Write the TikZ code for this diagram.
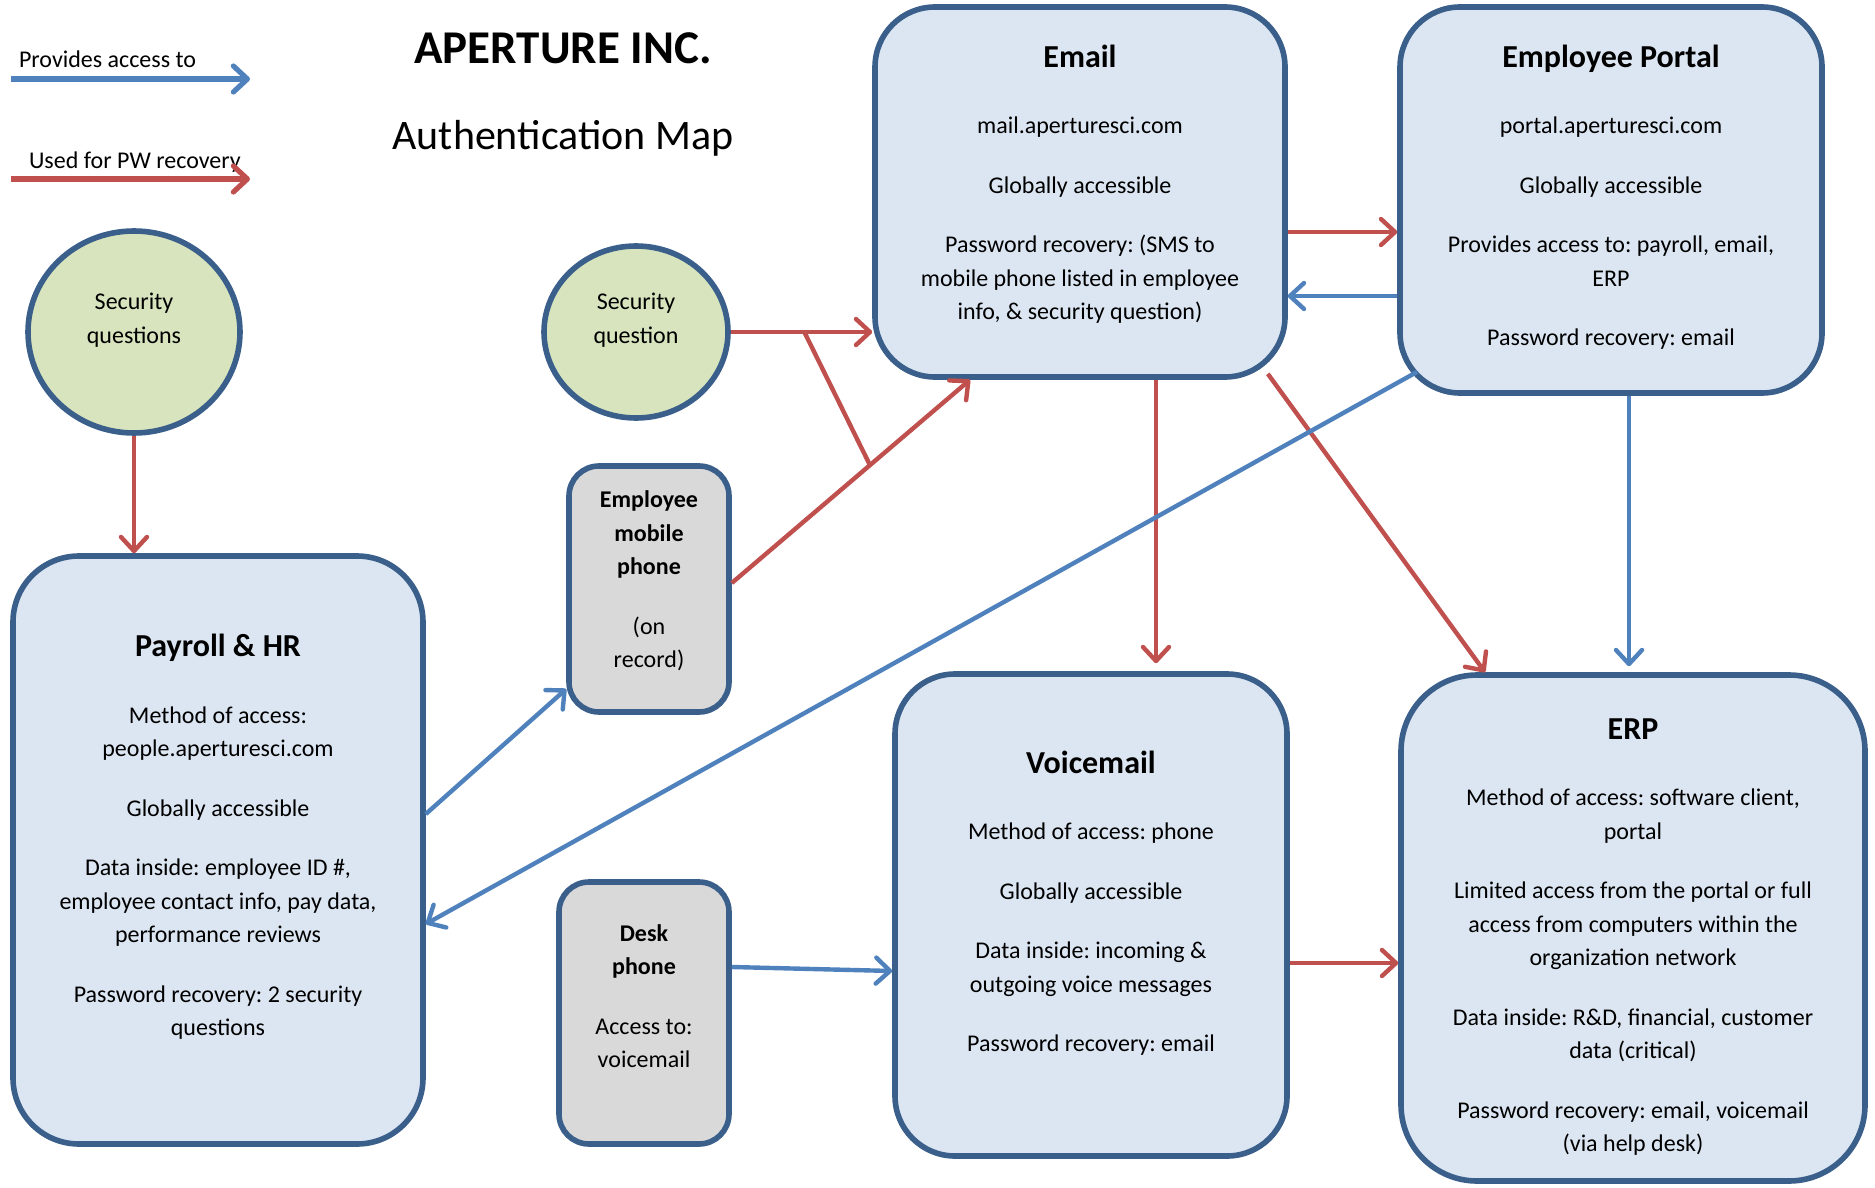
\documentclass[tikz,border=0pt]{standalone}
\usepackage{fontspec}
\setmainfont{Carlito}
\usetikzlibrary{arrows.meta,shapes.geometric}
\frenchspacing
\definecolor{boxline}{HTML}{3A5F8B}
\definecolor{boxfill}{HTML}{DCE6F2}
\definecolor{devfill}{HTML}{D9D9D9}
\definecolor{qfill}{HTML}{D7E4BD}
\definecolor{linkblue}{HTML}{4F81BD}
\definecolor{linkred}{HTML}{C0504D}
\newcommand{\boxtitle}[1]{{\fontsize{16}{16.75}\selectfont\bfseries #1}}
\begin{document}
\begin{tikzpicture}[x=0.5pt, y=-0.5pt,
    every node/.style={font=\fontsize{12}{16.75}\selectfont},
    sysbox/.style={draw=boxline, line width=2.8pt, fill=boxfill, rounded corners=30pt, inner sep=0pt},
    devbox/.style={sysbox, fill=devfill, rounded corners=15pt},
    boxtext/.style={align=center, inner sep=0pt},
    secq/.style={ellipse, draw=boxline, line width=2.8pt, fill=qfill, inner sep=0pt},
    access/.style={draw=linkblue, line width=2.2pt, -{Straight Barb[length=7pt, width=13pt, round]}},
    recov/.style={draw=linkred, line width=2.2pt, -{Straight Barb[length=7pt, width=13pt, round]}}]
    \useasboundingbox (0,0) rectangle (1875,1188) ;

    % legend
    \node [anchor=west] (acclbl) at (12,59) {Provides access to} ;
    \coordinate (accA) at (11,79) ;
    \coordinate (accB) at (250,79) ;
    \draw [access, line width=2.6pt] (accA) -- (accB) ;
    \node [anchor=west] (reclbl) at (22,162) {Used for PW recovery} ;
    \coordinate (recA) at (11,179) ;
    \coordinate (recB) at (250,179) ;
    \draw [recov, line width=2.6pt] (recA) -- (recB) ;

    % title
    \node [font=\fontsize{23.5}{28}\selectfont\bfseries] (title) at (563,48) {APERTURE INC.} ;
    \node [font=\fontsize{21}{26}\selectfont] (subtitle) at (563,138) {Authentication Map} ;

    % systems
    \node [sysbox, minimum width=205pt, minimum height=185pt] (email) at (1080,192) {} ;
    \node [boxtext, yshift=4pt] (emailtxt) at (email)
        {\boxtitle{Email}\\[16.5pt] mail.aperturesci.com\\[13pt] Globally accessible\\[13pt]
         Password recovery: (SMS to\\ mobile phone listed in employee\\ info, \& security question)} ;
    \node [sysbox, minimum width=211pt, minimum height=193pt] (portal) at (1611,200) {} ;
    \node [boxtext, yshift=1.5pt] (portaltxt) at (portal)
        {\boxtitle{Employee Portal}\\[16.5pt] portal.aperturesci.com\\[13pt] Globally accessible\\[13pt]
         Provides access to: payroll, email,\\ ERP\\[13pt] Password recovery: email} ;
    \node [sysbox, minimum width=205pt, minimum height=294pt, rounded corners=33pt] (payroll) at (218,850) {} ;
    \node [boxtext, yshift=6.5pt] (payrolltxt) at (payroll)
        {\boxtitle{Payroll \& HR}\\[16.5pt] Method of access:\\ people.aperturesci.com\\[13pt] Globally accessible\\[13pt]
         Data inside: employee ID \#,\\ employee contact info, pay data,\\ performance reviews\\[13pt]
         Password recovery: 2 security\\ questions} ;
    \node [sysbox, minimum width=196pt, minimum height=241pt] (voicemail) at (1091,915) {} ;
    \node [boxtext, yshift=6pt] (voicemailtxt) at (voicemail)
        {\boxtitle{Voicemail}\\[16.5pt] Method of access: phone\\[13pt] Globally accessible\\[13pt]
         Data inside: incoming \&\\ outgoing voice messages\\[13pt] Password recovery: email} ;
    \node [sysbox, minimum width=232pt, minimum height=253pt, rounded corners=38pt] (erp) at (1633,928) {} ;
    \node [boxtext, yshift=-4.5pt] (erptxt) at (erp)
        {\boxtitle{ERP}\\[16.5pt] Method of access: software client,\\ portal\\[13pt]
         Limited access from the portal or full\\ access from computers within the\\ organization network\\[13pt]
         Data inside: R\&D, financial, customer\\ data (critical)\\[13pt]
         Password recovery: email, voicemail\\ (via help desk)} ;

    % devices
    \node [devbox, minimum width=80pt, minimum height=123pt] (mobile) at (649,589) {} ;
    \node [boxtext, yshift=4pt] (mobiletxt) at (mobile)
        {\textbf{Employee}\\ \textbf{mobile}\\ \textbf{phone}\\[13pt] (on\\ record)} ;
    \node [devbox, minimum width=85pt, minimum height=131pt] (desk) at (644,1013) {} ;
    \node [boxtext, yshift=8.5pt] (desktxt) at (desk)
        {\textbf{Desk}\\ \textbf{phone}\\[13pt] Access to:\\ voicemail} ;

    % security questions
    \node [secq, minimum width=106pt, minimum height=101pt] (secqs) at (134,332) {} ;
    \node [boxtext, yshift=6pt] (secqstxt) at (secqs) {Security\\ questions} ;
    \node [secq, minimum width=92pt, minimum height=86pt] (secq) at (636,332) {} ;
    \node [boxtext, yshift=6pt] (secqtxt) at (secq) {Security\\ question} ;

    % recovery links
    \draw [recov] (secqs.south) -- (secqs.south |- payroll.north) ;
    \draw [recov] (secq.east) -- coordinate [pos=0.52] (sqjoin) (secq.east -| email.west) ;
    \draw [recov] ([yshift=3pt]mobile.east) -- coordinate [pos=0.58] (mobjoin) ([xshift=-55pt]email.south) ;
    \draw [draw=linkred, line width=2.2pt] (sqjoin) -- (mobjoin) ;
    \draw [recov] ([yshift=-20pt]email.east) -- ([yshift=-20pt]email.east -| portal.west) ;
    \draw [recov, shorten >=4pt] ([xshift=38pt]email.south) -- ([xshift=38pt]email.south |- voicemail.north) ;
    \draw [recov] ([xshift=-10pt, yshift=3pt]email.south east) -- ([xshift=-74pt]erp.north) ;
    \draw [recov] ([yshift=-24pt]voicemail.east) -- ([yshift=-24pt]voicemail.east -| erp.west) ;

    % access links
    \draw [access] ([yshift=-52pt]email.east -| portal.west) -- ([yshift=-52pt]email.east) ;
    \draw [access, shorten >=3pt] ([xshift=9pt]portal.south) -- ([xshift=9pt]portal.south |- erp.north) ;
    \draw [access] ([xshift=10pt, yshift=12pt]portal.south west) -- ([yshift=-37pt]payroll.east) ;
    \draw [access] ([yshift=18pt]payroll.east) -- ([yshift=-50pt]mobile.west) ;
    \draw [access] ([yshift=23pt]desk.east) -- ([yshift=-28pt]voicemail.west) ;
\end{tikzpicture}
\end{document}
